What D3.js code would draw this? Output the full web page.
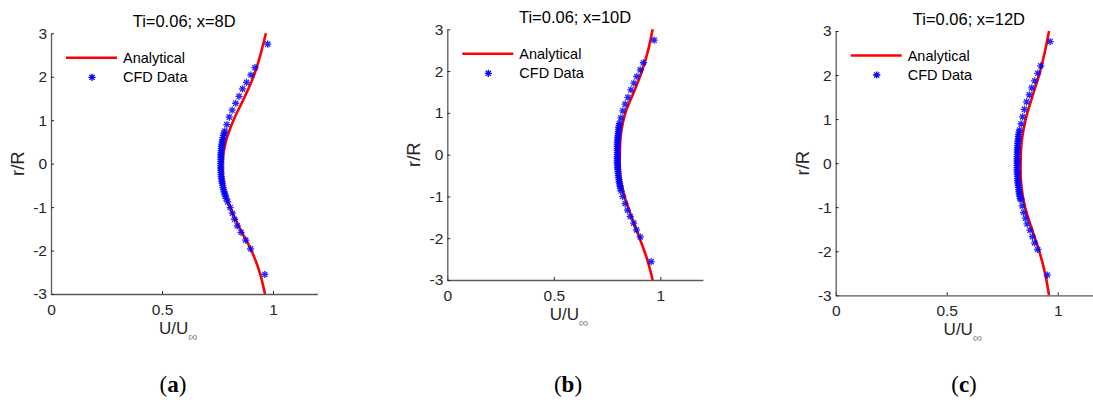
<!DOCTYPE html>
<html>
<head>
<meta charset="utf-8">
<script src="https://cdn.jsdelivr.net/npm/d3@7"></script>
<style>
  body { margin: 0; background: #fff; }
  svg { display: block; font-family: "Liberation Sans", Arial, Helvetica, sans-serif; }
</style>
</head>
<body>
<div id="chart"></div>
<script>
// radial positions where the analytical profile was read
const rGrid = [3, 2.5, 2, 1.5, 1, 0.5, 0, -0.5, -1, -1.5, -2, -2.5, -3];

// analytical U/Uinf at each rGrid value
const analyticA = [0.968, 0.943, 0.912, 0.869, 0.822, 0.787, 0.772, 0.779, 0.807, 0.852, 0.903, 0.940, 0.964];
const analyticB = [0.964, 0.943, 0.914, 0.876, 0.836, 0.815, 0.810, 0.812, 0.832, 0.866, 0.903, 0.938, 0.964];
const analyticC = [0.961, 0.941, 0.916, 0.885, 0.856, 0.838, 0.833, 0.836, 0.853, 0.884, 0.917, 0.943, 0.961];

// CFD samples: [U/Uinf, r/R]
const cfdA = [
  [0.976, 2.75], [0.919, 2.21], [0.901, 2.04], [0.881, 1.87], [0.863, 1.72], [0.847, 1.55],
  [0.832, 1.39], [0.816, 1.23], [0.803, 1.07], [0.792, 0.90],
  [0.783, 0.75], [0.780, 0.70], [0.777, 0.65], [0.775, 0.60], [0.773, 0.55], [0.771, 0.50],
  [0.770, 0.45], [0.768, 0.40], [0.767, 0.35], [0.766, 0.30], [0.766, 0.25], [0.765, 0.20],
  [0.765, 0.15], [0.765, 0.10], [0.765, 0.05], [0.765, 0.00], [0.765, -0.05], [0.765, -0.10],
  [0.765, -0.15], [0.766, -0.20], [0.766, -0.25], [0.767, -0.30], [0.768, -0.35], [0.770, -0.40],
  [0.771, -0.45], [0.773, -0.50], [0.775, -0.55], [0.777, -0.60], [0.780, -0.65], [0.783, -0.70],
  [0.786, -0.75], [0.789, -0.80],
  [0.796, -0.88], [0.807, -1.01], [0.817, -1.14], [0.827, -1.28], [0.839, -1.43], [0.856, -1.58],
  [0.877, -1.76], [0.899, -1.96], [0.963, -2.55]
];
const cfdB = [
  [0.971, 2.74], [0.921, 2.20], [0.906, 2.03], [0.890, 1.87], [0.876, 1.71], [0.862, 1.55],
  [0.848, 1.37], [0.835, 1.21], [0.824, 1.05], [0.815, 0.88],
  [0.809, 0.75], [0.807, 0.70], [0.805, 0.65], [0.804, 0.60], [0.803, 0.55], [0.802, 0.50],
  [0.801, 0.45], [0.800, 0.40], [0.799, 0.35], [0.799, 0.30], [0.798, 0.25], [0.798, 0.20],
  [0.798, 0.15], [0.798, 0.10], [0.798, 0.05], [0.798, 0.00], [0.798, -0.05], [0.798, -0.10],
  [0.798, -0.15], [0.798, -0.20], [0.799, -0.25], [0.799, -0.30], [0.800, -0.35], [0.801, -0.40],
  [0.802, -0.45], [0.803, -0.50], [0.804, -0.55], [0.806, -0.60], [0.807, -0.65], [0.809, -0.70],
  [0.811, -0.75], [0.813, -0.80],
  [0.816, -0.87], [0.824, -1.00], [0.835, -1.17], [0.846, -1.33], [0.859, -1.48], [0.875, -1.64],
  [0.888, -1.80], [0.906, -1.97], [0.957, -2.56]
];
const cfdC = [
  [0.966, 2.76], [0.924, 2.21], [0.910, 2.04], [0.896, 1.87], [0.883, 1.71], [0.872, 1.55],
  [0.860, 1.39], [0.850, 1.22], [0.842, 1.05], [0.835, 0.89],
  [0.828, 0.75], [0.826, 0.70], [0.824, 0.65], [0.823, 0.60], [0.822, 0.55], [0.821, 0.50],
  [0.820, 0.45], [0.819, 0.40], [0.819, 0.35], [0.818, 0.30], [0.818, 0.25], [0.818, 0.20],
  [0.817, 0.15], [0.817, 0.10], [0.817, 0.05], [0.817, 0.00], [0.817, -0.05], [0.817, -0.10],
  [0.817, -0.15], [0.818, -0.20], [0.818, -0.25], [0.819, -0.30], [0.819, -0.35], [0.820, -0.40],
  [0.821, -0.45], [0.822, -0.50], [0.823, -0.55], [0.824, -0.60], [0.826, -0.65], [0.827, -0.70],
  [0.829, -0.75], [0.831, -0.80],
  [0.835, -0.83], [0.840, -0.97], [0.847, -1.12], [0.855, -1.25], [0.862, -1.38], [0.875, -1.52],
  [0.886, -1.67], [0.896, -1.81], [0.910, -1.96], [0.953, -2.54]
];

const titles = ["Ti=0.06; x=8D", "Ti=0.06; x=10D", "Ti=0.06; x=12D"];
const panelTags = ["a", "b", "c"];
const xTicks = [0, 0.5, 1];
const yTicks = [-3, -2, -1, 0, 1, 2, 3];
const legendLabels = ["Analytical", "CFD Data"];

const panels = [
  { left: 51, top: 33.3, width: 266.4, height: 260.7, tagX: 173, analytic: analyticA, cfd: cfdA },
  { left: 447.3, top: 29.3, width: 255.6, height: 250.7, tagX: 568, analytic: analyticB, cfd: cfdB },
  { left: 835.7, top: 31, width: 266.4, height: 264.3, tagX: 964, analytic: analyticC, cfd: cfdC }
];
panels.forEach((p, i) => { p.title = titles[i]; p.tag = panelTags[i]; });

const axisColor = "#262626";

const svg = d3.select("#chart")
    .append("svg")
    .attr("width", 1093)
    .attr("height", 405);

function asterisk(s) {
    const d = s * 0.72;
    return `M${-s},0H${s}M0,${-s}V${s}M${-d},${-d}L${d},${d}M${-d},${d}L${d},${-d}`;
}

panels.forEach(p => {
    const g = svg.append("g").attr("transform", `translate(${p.left},${p.top})`);

    const x = d3.scaleLinear().domain([0, 1.2]).range([0, p.width]);
    const y = d3.scaleLinear().domain([-3, 3]).range([p.height, 0]);

    const xAxis = g.append("g")
        .attr("transform", `translate(0,${p.height})`)
        .call(d3.axisBottom(x).tickValues(xTicks).tickFormat(d3.format("~g"))
            .tickSizeInner(-3).tickSizeOuter(0).tickPadding(10));

    const yAxis = g.append("g")
        .call(d3.axisLeft(y).tickValues(yTicks).tickFormat(d3.format("d"))
            .tickSizeInner(-3).tickSizeOuter(0).tickPadding(4));

    [xAxis, yAxis].forEach(ax => {
        ax.select(".domain").attr("stroke", "#5a5a5a").attr("stroke-width", 1.3);
        ax.selectAll("line").attr("stroke", axisColor);
        ax.selectAll("text")
            .attr("fill", axisColor)
            .style("font-size", "15.5px")
            .style("font-family", "'Liberation Sans', Arial, sans-serif");
    });
    yAxis.selectAll("text").text(d => d < 0 ? "-" + Math.abs(d) : d);

    // analytical profile
    const line = d3.line()
        .x(d => x(d[0]))
        .y(d => y(d[1]))
        .curve(d3.curveCatmullRom);

    g.append("path")
        .datum(p.analytic.map((u, k) => [u, rGrid[k]]))
        .attr("fill", "none")
        .attr("stroke", "#ff0000")
        .attr("stroke-width", 2.6)
        .attr("d", line);

    // CFD markers
    g.selectAll(".cfd")
        .data(p.cfd)
        .enter()
        .append("path")
        .attr("class", "cfd")
        .attr("transform", d => `translate(${x(d[0])},${y(d[1])})`)
        .attr("d", asterisk(3.6))
        .attr("fill", "none")
        .attr("stroke", "#0000ff")
        .attr("stroke-opacity", 0.85)
        .attr("stroke-width", 1.3);

    // title
    g.append("text")
        .attr("x", p.width / 2)
        .attr("y", -6.5)
        .attr("text-anchor", "middle")
        .attr("fill", "#000")
        .style("font-size", "16.5px")
        .text(p.title);

    // x label with subscript infinity
    const xl = g.append("text")
        .attr("x", p.width / 2 - 6)
        .attr("y", p.height + 40)
        .attr("text-anchor", "middle")
        .attr("fill", axisColor)
        .style("font-size", "17px");
    xl.append("tspan").text("U/U");
    xl.append("tspan")
        .attr("dy", 7)
        .attr("fill", "#8a8a8a")
        .style("font-size", "13px")
        .text("\u221E");

    // y label
    g.append("text")
        .attr("transform", `translate(-27,${p.height / 2}) rotate(-90)`)
        .attr("text-anchor", "middle")
        .attr("fill", axisColor)
        .style("font-size", "18.5px")
        .text("r/R");

    // legend
    const lg = g.append("g");
    lg.append("line")
        .attr("x1", 15).attr("x2", 66)
        .attr("y1", 24.5).attr("y2", 24.5)
        .attr("stroke", "#ff0000")
        .attr("stroke-width", 2.6);
    lg.append("path")
        .attr("transform", "translate(41,44)")
        .attr("d", asterisk(3.6))
        .attr("fill", "none")
        .attr("stroke", "#0000ff")
        .attr("stroke-width", 1.3);
    lg.selectAll(".lt")
        .data(legendLabels)
        .enter()
        .append("text")
        .attr("class", "lt")
        .attr("x", 72)
        .attr("y", (d, k) => 29.5 + k * 19.5)
        .attr("fill", "#000")
        .style("font-size", "14.5px")
        .text(d => d);

    // panel tag
    const tag = svg.append("text")
        .attr("x", p.tagX)
        .attr("y", 392)
        .attr("text-anchor", "middle")
        .attr("fill", "#000")
        .style("font-family", "'Liberation Serif', 'DejaVu Serif', serif")
        .style("font-size", "23px");
    tag.append("tspan").text("(");
    tag.append("tspan").style("font-weight", "bold").text(p.tag);
    tag.append("tspan").text(")");
});
</script>
</body>
</html>
